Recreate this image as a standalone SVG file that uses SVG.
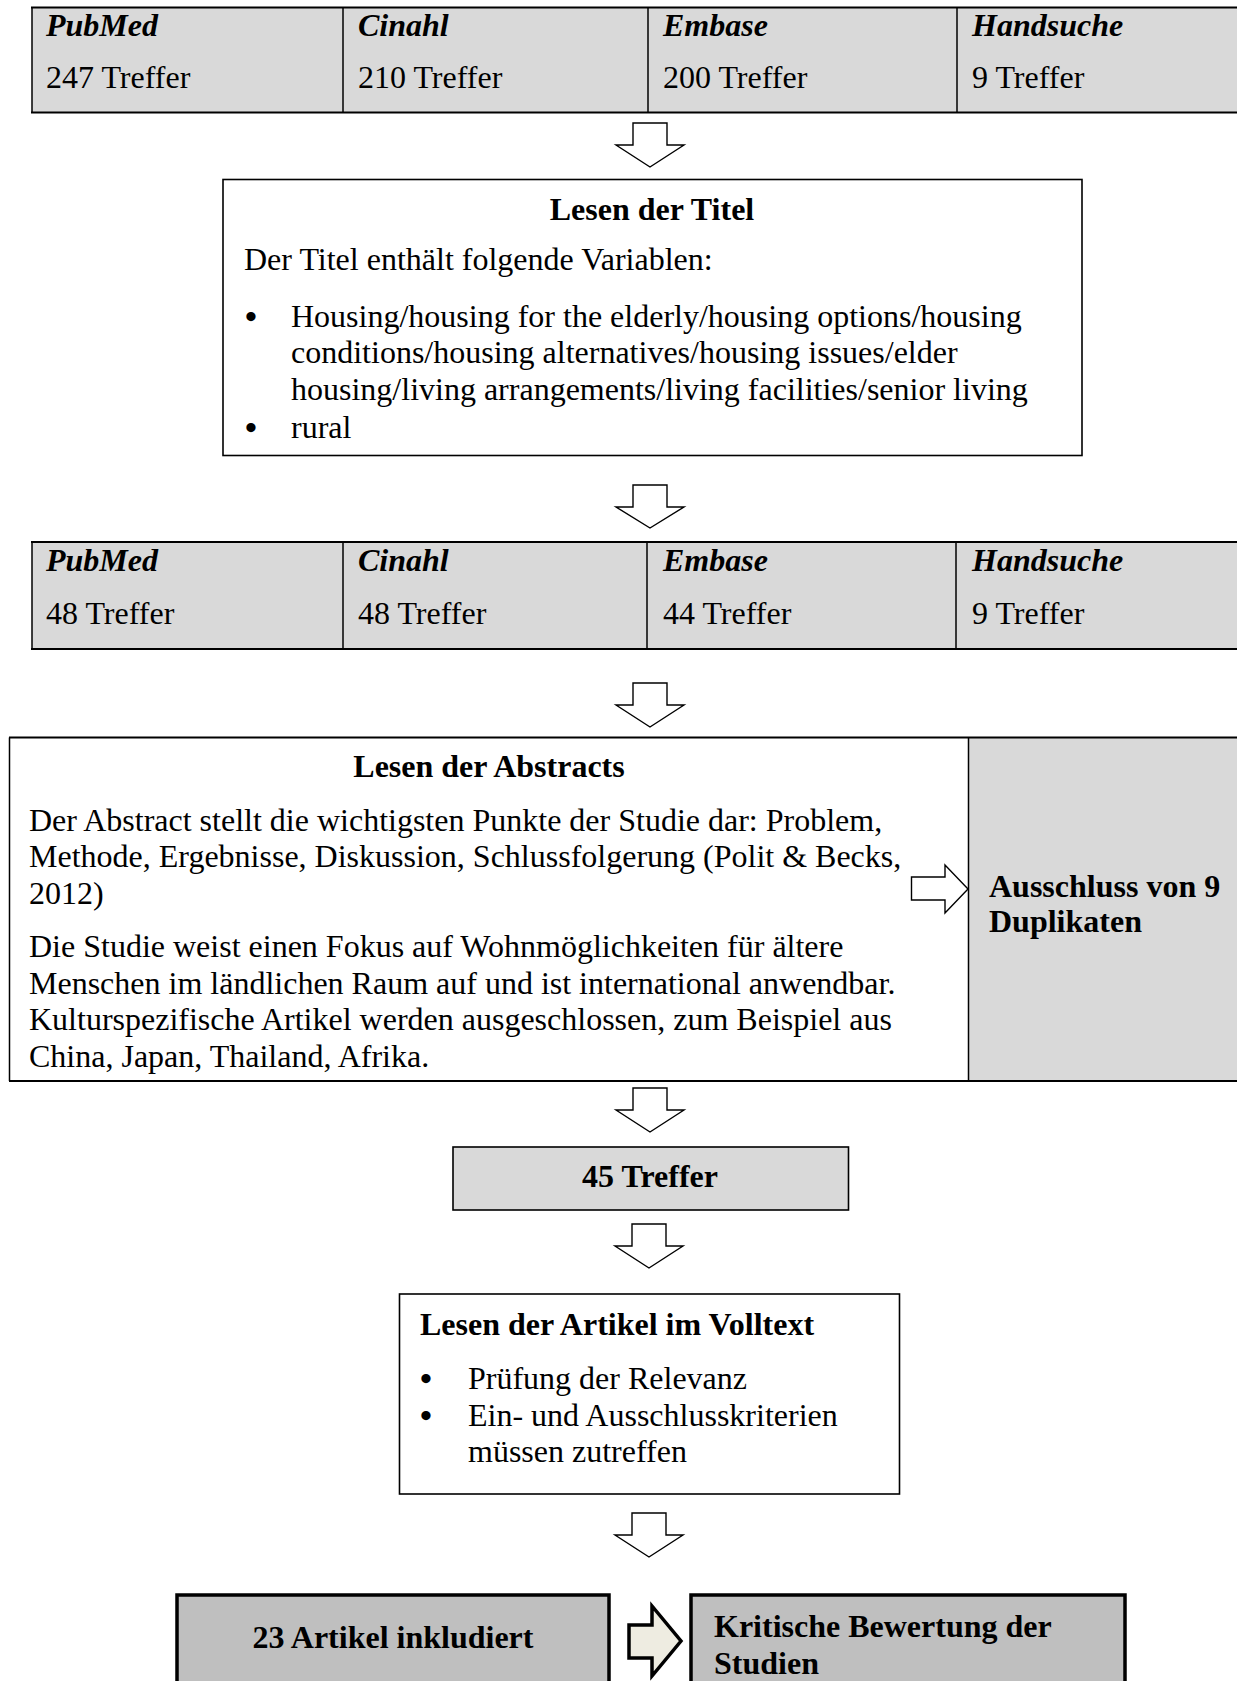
<svg xmlns="http://www.w3.org/2000/svg" width="1237" height="1681" viewBox="0 0 1237 1681">
<style>
text{font-family:"Liberation Serif","Times New Roman",serif;font-size:32px;fill:#000}
.b{font-weight:bold}
.bi{font-weight:bold;font-style:italic}
.c{text-anchor:middle}
.bul{font-size:34px;font-weight:bold}
.cell{fill:#d9d9d9;stroke:none}
.ln{stroke:#000;stroke-width:1.5;fill:none}
.lnb{stroke:#000;stroke-width:2.2;fill:none}
.box{fill:#fff;stroke:#000;stroke-width:1.6}
.gbox{fill:#d9d9d9;stroke:#000;stroke-width:1.6}
.dbox{fill:#bfbfbf;stroke:#000;stroke-width:3.5}
.arr{fill:#fff;stroke:#000;stroke-width:1.4;stroke-linejoin:miter}
.arrb{fill:#eeece1;stroke:#000;stroke-width:3.5;stroke-linejoin:miter}
</style>
<rect width="1237" height="1681" fill="#fff"/>

<g id="table1">
<rect class="cell" x="32" y="7.5" width="1210" height="105"/>
<line class="lnb" x1="31" y1="7.5" x2="1237" y2="7.5"/>
<line class="lnb" x1="31" y1="112.5" x2="1237" y2="112.5"/>
<line class="ln" x1="32" y1="7.5" x2="32" y2="112.5"/>
<line class="ln" x1="343" y1="7.5" x2="343" y2="112.5"/>
<line class="ln" x1="648" y1="7.5" x2="648" y2="112.5"/>
<line class="ln" x1="957" y1="7.5" x2="957" y2="112.5"/>
<text class="bi" x="46" y="36">PubMed</text>
<text x="46" y="88">247 Treffer</text>
<text class="bi" x="358" y="36">Cinahl</text>
<text x="358" y="88">210 Treffer</text>
<text class="bi" x="663" y="36">Embase</text>
<text x="663" y="88">200 Treffer</text>
<text class="bi" x="972" y="36">Handsuche</text>
<text x="972" y="88">9 Treffer</text>
</g>

<g id="titel">
<rect class="box" x="223" y="179.5" width="859" height="276"/>
<text class="b c" x="652" y="220">Lesen der Titel</text>
<text x="244" y="270">Der Titel enthält folgende Variablen:</text>
<text class="bul" x="245" y="328">•</text>
<text x="291" y="327">Housing/housing for the elderly/housing options/housing</text>
<text x="291" y="363">conditions/housing alternatives/housing issues/elder</text>
<text x="291" y="399.5">housing/living arrangements/living facilities/senior living</text>
<text class="bul" x="245" y="439">•</text>
<text x="291" y="438">rural</text>
</g>

<g id="table2">
<rect class="cell" x="32" y="542" width="1210" height="107"/>
<line class="lnb" x1="31" y1="542" x2="1237" y2="542"/>
<line class="lnb" x1="31" y1="649" x2="1237" y2="649"/>
<line class="ln" x1="32" y1="542" x2="32" y2="649"/>
<line class="ln" x1="343" y1="542" x2="343" y2="649"/>
<line class="ln" x1="647" y1="542" x2="647" y2="649"/>
<line class="ln" x1="956" y1="542" x2="956" y2="649"/>
<text class="bi" x="46" y="571">PubMed</text>
<text x="46" y="624">48 Treffer</text>
<text class="bi" x="358" y="571">Cinahl</text>
<text x="358" y="624">48 Treffer</text>
<text class="bi" x="663" y="571">Embase</text>
<text x="663" y="624">44 Treffer</text>
<text class="bi" x="972" y="571">Handsuche</text>
<text x="972" y="624">9 Treffer</text>
</g>

<g id="abstracts">
<rect class="cell" x="968" y="737.5" width="280" height="344"/>
<line class="lnb" x1="9" y1="737.5" x2="1237" y2="737.5"/>
<line class="lnb" x1="9" y1="1081" x2="1237" y2="1081"/>
<line class="ln" x1="9.5" y1="737.5" x2="9.5" y2="1081"/>
<line class="ln" x1="968.5" y1="737.5" x2="968.5" y2="1081"/>
<text class="b c" x="489" y="777">Lesen der Abstracts</text>
<text x="29" y="830.5">Der Abstract stellt die wichtigsten Punkte der Studie dar: Problem,</text>
<text x="29" y="867">Methode, Ergebnisse, Diskussion, Schlussfolgerung (Polit &amp; Becks,</text>
<text x="29" y="903.5">2012)</text>
<text x="29" y="957">Die Studie weist einen Fokus auf Wohnmöglichkeiten für ältere</text>
<text x="29" y="993.5">Menschen im ländlichen Raum auf und ist international anwendbar.</text>
<text x="29" y="1030">Kulturspezifische Artikel werden ausgeschlossen, zum Beispiel aus</text>
<text x="29" y="1066.5">China, Japan, Thailand, Afrika.</text>
</g>

<g id="duplikate">
<text class="b" x="989" y="897">Ausschluss von 9</text>
<text class="b" x="989" y="932">Duplikaten</text>
</g>

<g id="treffer45">
<rect class="gbox" x="453" y="1147" width="395.5" height="63"/>
<text class="b c" x="650" y="1187">45 Treffer</text>
</g>

<g id="volltext">
<rect class="box" x="399.5" y="1294" width="500" height="200"/>
<text class="b" x="420" y="1335">Lesen der Artikel im Volltext</text>
<text class="bul" x="420" y="1390">•</text>
<text x="468" y="1389">Prüfung der Relevanz</text>
<text class="bul" x="420" y="1427">•</text>
<text x="468" y="1426">Ein- und Ausschlusskriterien</text>
<text x="468" y="1462">müssen zutreffen</text>
</g>

<g id="inkludiert">
<rect class="dbox" x="177" y="1595" width="432" height="120"/>
<text class="b c" x="393" y="1648">23 Artikel inkludiert</text>
</g>

<g id="bewertung">
<rect class="dbox" x="691" y="1595" width="434" height="120"/>
<text class="b" x="714" y="1637">Kritische Bewertung der</text>
<text class="b" x="714" y="1674">Studien</text>
</g>

<g id="connectors">
<path class="arr" d="M633,123 H667 V145 H684 L650,167 L616,145 H633 Z"/>
<path class="arr" d="M633,485 H667 V507 H684 L650,528 L616,507 H633 Z"/>
<path class="arr" d="M633,683 H667 V705 H684 L650,727 L616,705 H633 Z"/>
<path class="arr" d="M911.5,877 H945 V865 L968,889 L945,913 V900 H911.5 Z"/>
<path class="arr" d="M633,1088 H667 V1110 H684 L650,1132 L616,1110 H633 Z"/>
<path class="arr" d="M632,1224 H666 V1246 H683 L649,1268 L615,1246 H632 Z"/>
<path class="arr" d="M632,1513 H666 V1535 H683 L649,1557 L615,1535 H632 Z"/>
<path class="arrb" d="M629,1625 H652 V1606 L681,1641 L652,1676 V1658 H629 Z"/>
</g>
</svg>
